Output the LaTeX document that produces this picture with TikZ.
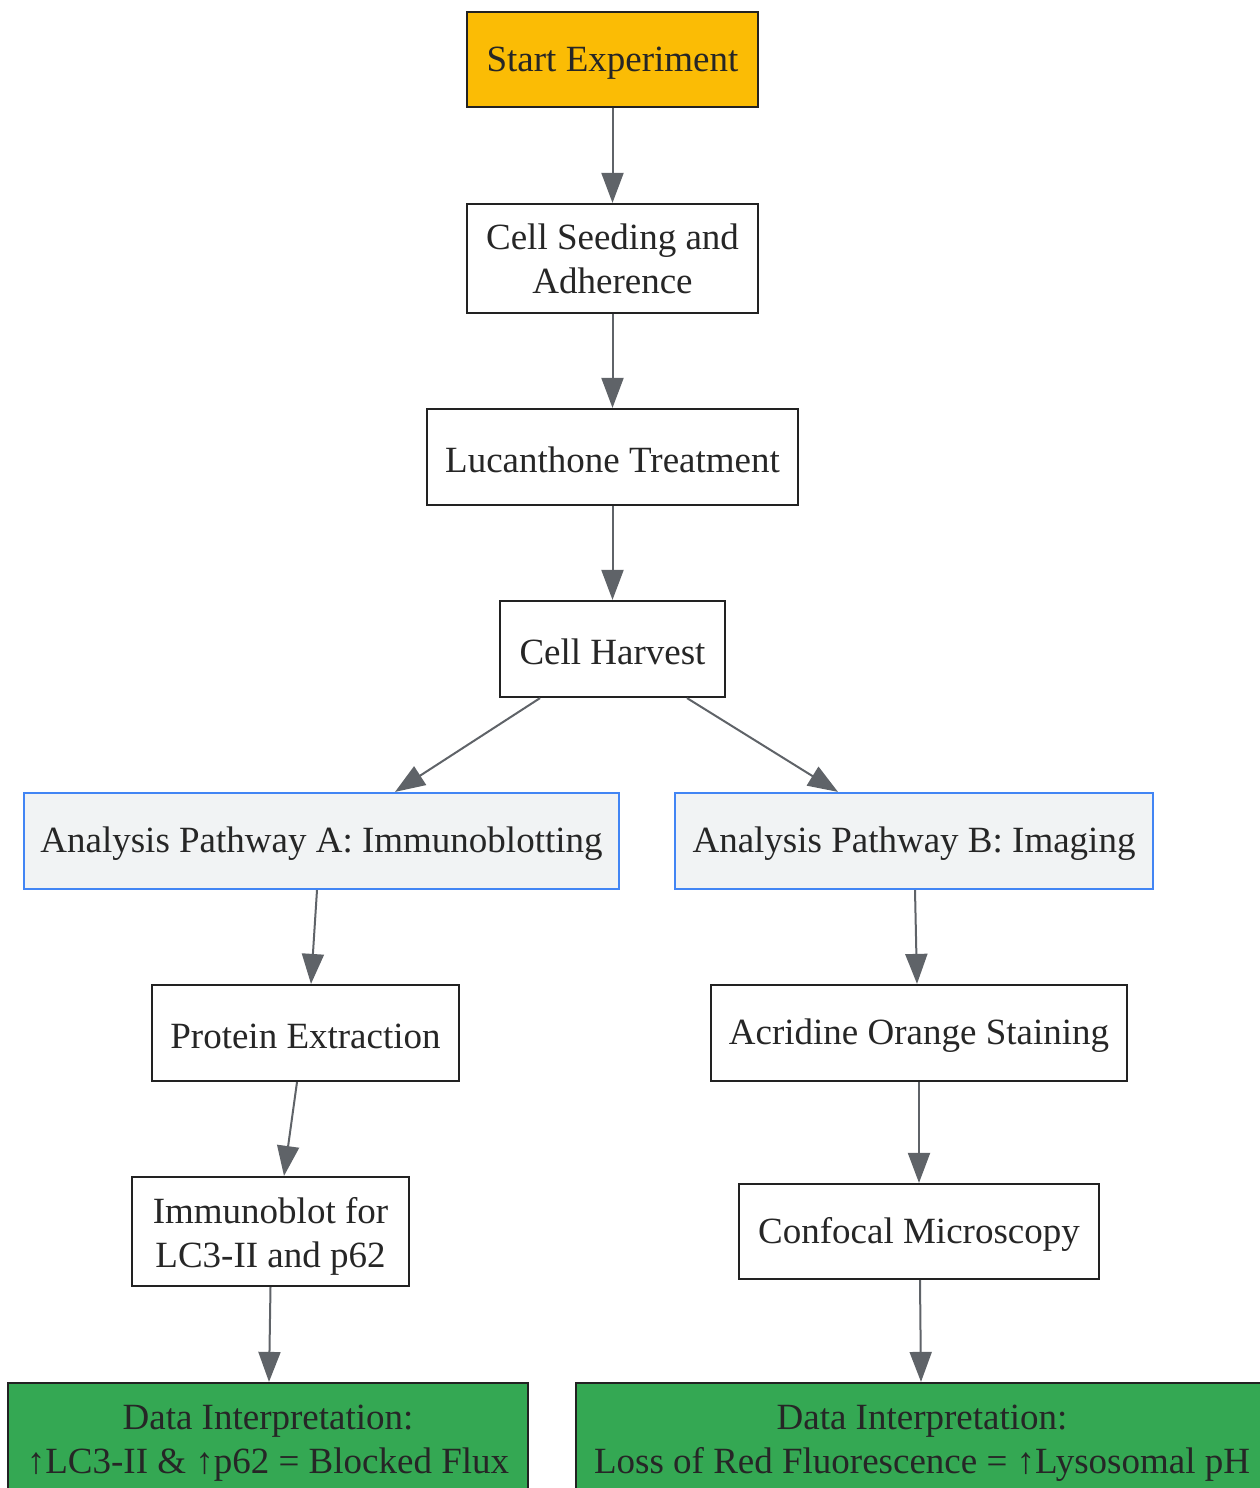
\documentclass[tikz,border=0pt]{standalone}
\usepackage{fontspec}
\setmainfont{Liberation Serif}
\usetikzlibrary{arrows.meta}
\definecolor{startc}{HTML}{FBBC05}
\definecolor{greenc}{HTML}{34A853}
\definecolor{grayfill}{HTML}{F1F3F4}
\definecolor{bluec}{HTML}{4285F4}
\definecolor{arrowc}{HTML}{5F6368}
\definecolor{borderc}{HTML}{222222}
\definecolor{textc}{HTML}{262626}
\tikzset{
  box/.style={draw=borderc, line width=2.2pt, fill=white, inner sep=0pt, align=center,
    text=textc, font=\fontsize{37}{44}\selectfont,
    execute at begin node={\rule{0pt}{31pt}}},
  pathbox/.style={box, draw=bluec, fill=grayfill},
  startbox/.style={box, fill=startc},
  databox/.style={box, fill=greenc},
  conn/.style={draw=arrowc, line width=2pt, -{Triangle[length=30pt,width=22pt]}}
}
\begin{document}
\begin{tikzpicture}[x=1pt,y=-1pt]
\useasboundingbox (0,0) rectangle (1260,1488);
\node[startbox, minimum width=291pt, minimum height=95pt] (start) at (612.5,59.5) {Start Experiment};
\node[box, minimum width=291pt, minimum height=109pt] (seed) at (612.5,258.5) {Cell Seeding and\\Adherence};
\node[box, minimum width=371pt, minimum height=96pt] (luc) at (612.5,457) {Lucanthone Treatment};
\node[box, minimum width=225pt, minimum height=96pt] (harv) at (612.5,649) {Cell Harvest};
\node[pathbox, minimum width=595pt, minimum height=96pt] (pa) at (321.5,841) {Analysis Pathway A: Immunoblotting};
\node[pathbox, minimum width=478pt, minimum height=96pt] (pb) at (914,841) {Analysis Pathway B: Imaging};
\node[box, minimum width=307pt, minimum height=96pt] (prot) at (305.5,1033) {Protein Extraction};
\node[box, minimum width=416pt, minimum height=96pt] (acr) at (919,1033) {Acridine Orange Staining};
\node[box, minimum width=277pt, minimum height=109pt] (imm) at (270.5,1231.5) {\rule{0pt}{36pt}Immunoblot for\\LC3-II and p62};
\node[box, minimum width=360pt, minimum height=95pt] (conf) at (919,1231.5) {Confocal Microscopy};
\node[databox, minimum width=520pt, minimum height=120pt] (da) at (268,1443) {Data Interpretation:\\↑LC3-II \& ↑p62 = Blocked Flux};
\node[databox, minimum width=692pt, minimum height=120pt] (db) at (922,1443) {Data Interpretation:\\Loss of Red Fluorescence = ↑Lysosomal pH};

\draw[conn] (start.south) -- (seed.north);
\draw[conn] (seed.south) -- (luc.north);
\draw[conn] (luc.south) -- (harv.north);
\draw[conn] ([xshift=-72.5pt]harv.south) -- ([xshift=73.5pt]pa.north);
\draw[conn] ([xshift=74.5pt]harv.south) -- ([xshift=-76pt]pb.north);
\draw[conn] ([xshift=-4.5pt]pa.south) -- ([xshift=5.5pt]prot.north);
\draw[conn] ([xshift=-8.5pt]prot.south) -- ([xshift=13.5pt]imm.north);
\draw[conn] (imm.south) -- ([xshift=1pt]da.north);
\draw[conn] ([xshift=1pt]pb.south) -- ([xshift=-2pt]acr.north);
\draw[conn] (acr.south) -- (conf.north);
\draw[conn] ([xshift=1pt]conf.south) -- ([xshift=-1pt]db.north);
\end{tikzpicture}
\end{document}
